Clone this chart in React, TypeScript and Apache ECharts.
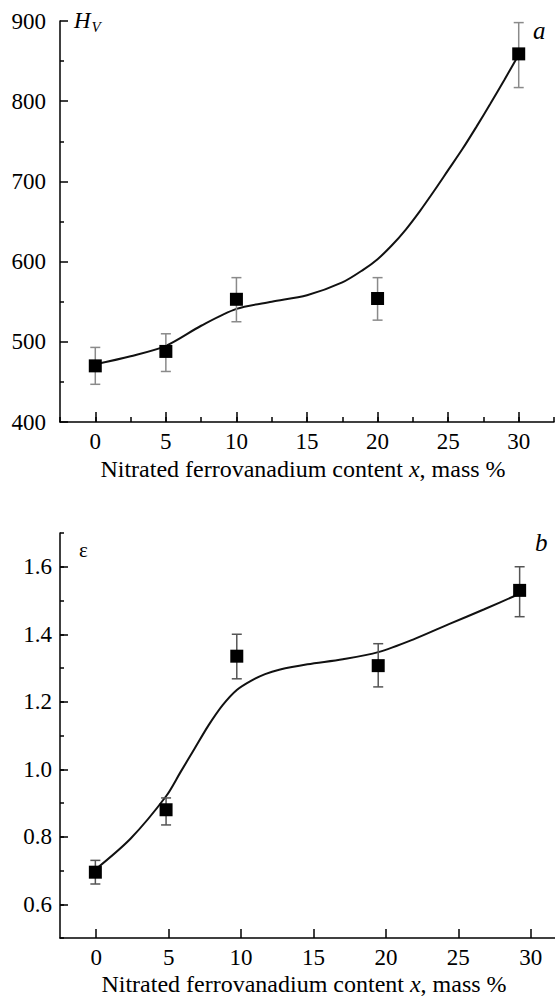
import React, { useEffect, useRef } from "react";
import * as echarts from "echarts";

// Measured points (x = nitrated ferrovanadium content, mass %)
const xPoints = [0, 5, 10, 20, 30];
const hvMean = [470, 488, 553, 554, 859];
const hvLow = [447, 463, 525, 527, 817];
const hvHigh = [493, 510, 580, 580, 898];

const epsMean = [0.695, 0.88, 1.335, 1.307, 1.53];
const epsLow = [0.66, 0.835, 1.268, 1.244, 1.452];
const epsHigh = [0.73, 0.915, 1.4, 1.372, 1.6];

// Fitted curves
const hvFitX = [0, 2.5, 5, 7.5, 10, 12.5, 15, 17.5, 19, 20, 21, 22, 23, 24, 25, 26, 27, 28, 29, 30];
const hvFit = [472, 482, 495, 520, 541, 550, 558, 574, 590, 603, 620, 640, 663, 688, 714, 740, 768, 797, 827, 858];
const epsFitX = [0, 2.5, 5, 6, 7, 8, 9, 10, 11, 12, 13, 15, 17.5, 20, 22.5, 25, 27.5, 30];
const epsFit = [0.703, 0.795, 0.92, 0.99, 1.06, 1.13, 1.19, 1.235, 1.262, 1.282, 1.295, 1.311, 1.326, 1.347, 1.385, 1.43, 1.474, 1.52];

// Tick labels
const xTickLabels = ["0", "5", "10", "15", "20", "25", "30"];
const hvTickLabels = ["400", "500", "600", "700", "800", "900"];
const epsTickLabels = ["0.6", "0.8", "1.0", "1.2", "1.4", "1.6"];

const FONT = "Liberation Serif";

export default function App() {
  const ref = useRef<HTMLDivElement>(null);

  useEffect(() => {
    if (!ref.current) return;
    const chart = echarts.init(ref.current, null, { renderer: "svg" });

    // layout
    const L = 60;
    const topT = 21, topH = 401, topW = 494;
    const botT = 533, botH = 405, botW = 507;
    const xMin = -2.5, xMax = 32.5;
    const topPx = topW / (xMax - xMin);
    const botPx = botW / (xMax - xMin);
    const botYPx = botH / 1.2;

    const black = "#000";
    const labelStyle = { color: black, fontFamily: FONT, fontSize: 23 };
    const lineOn = { show: true, onZero: false, lineStyle: { color: black, width: 1.5 } };

    const errItem = (color: string) => (params: any, api: any) => {
      const x = api.value(0);
      const lo = api.coord([x, api.value(2)]);
      const hi = api.coord([x, api.value(3)]);
      const cap = 5;
      const st = { stroke: color, lineWidth: 1.5 };
      return {
        type: "group",
        children: [
          { type: "line", shape: { x1: lo[0], y1: lo[1], x2: hi[0], y2: hi[1] }, style: st },
          { type: "line", shape: { x1: lo[0] - cap, y1: lo[1], x2: lo[0] + cap, y2: lo[1] }, style: st },
          { type: "line", shape: { x1: hi[0] - cap, y1: hi[1], x2: hi[0] + cap, y2: hi[1] }, style: st },
        ],
      };
    };

    const hvErr = xPoints.map((x, i) => [x, hvMean[i], hvLow[i], hvHigh[i]]);
    const epsErr = xPoints.map((x, i) => [x, epsMean[i], epsLow[i], epsHigh[i]]);

    const nameRich = {
      a: { fontFamily: FONT, fontSize: 24, fontStyle: "normal", fill: black },
      i: { fontFamily: FONT, fontSize: 24, fontStyle: "italic", fill: black },
    };

    const option: any = {
      animation: false,
      grid: [
        { left: L, top: topT, width: topW, height: topH },
        { left: L + 2.5 * topPx, top: topT, width: 30 * topPx, height: topH },
        { left: L, top: botT, width: botW, height: botH },
        { left: L + 2.5 * botPx, top: botT, width: 30 * botPx, height: botH },
        { left: L, top: botT + botYPx * 0.1, width: botW, height: botYPx },
      ],
      xAxis: [
        {
          gridIndex: 0, type: "value", min: xMin, max: xMax, interval: 2.5,
          axisLine: lineOn,
          axisTick: { show: true, inside: true, length: 5, lineStyle: { color: black, width: 1.5 } },
          axisLabel: { show: false }, splitLine: { show: false },
        },
        {
          gridIndex: 1, type: "value", min: 0, max: 30, interval: 5,
          axisLine: { show: false, onZero: false },
          axisTick: { show: true, inside: true, length: 10, lineStyle: { color: black, width: 1.5 } },
          axisLabel: { ...labelStyle, margin: 8, formatter: (v: number) => xTickLabels[Math.round(v / 5)] ?? "" },
          splitLine: { show: false },
        },
        {
          gridIndex: 2, type: "value", min: xMin, max: xMax, interval: 2.5,
          axisLine: lineOn,
          axisTick: { show: false }, axisLabel: { show: false }, splitLine: { show: false },
        },
        {
          gridIndex: 3, type: "value", min: 0, max: 30, interval: 5,
          axisLine: { show: false, onZero: false },
          axisTick: { show: true, inside: true, length: 9, lineStyle: { color: black, width: 1.5 } },
          axisLabel: { ...labelStyle, margin: 8, formatter: (v: number) => xTickLabels[Math.round(v / 5)] ?? "" },
          splitLine: { show: false },
        },
        { gridIndex: 4, type: "value", min: xMin, max: xMax, show: false },
      ],
      yAxis: [
        {
          gridIndex: 0, type: "value", min: 400, max: 900, interval: 100,
          axisLine: lineOn,
          axisTick: { show: true, inside: true, length: 8, lineStyle: { color: black, width: 1.5 } },
          minorTick: { show: true, splitNumber: 2, length: 4, lineStyle: { color: black, width: 1.5 } },
          axisLabel: { ...labelStyle, margin: 14, formatter: (v: number) => hvTickLabels[Math.round((v - 400) / 100)] ?? "" },
          splitLine: { show: false },
        },
        { gridIndex: 1, type: "value", min: 400, max: 900, show: false },
        {
          gridIndex: 2, type: "value", min: 0.5, max: 1.7, interval: 0.1,
          axisLine: lineOn,
          axisTick: { show: true, inside: true, length: 4, lineStyle: { color: black, width: 1.5 } },
          axisLabel: { show: false }, splitLine: { show: false },
        },
        { gridIndex: 3, type: "value", min: 0.5, max: 1.7, show: false },
        {
          gridIndex: 4, type: "value", min: 0.6, max: 1.6, interval: 0.2,
          axisLine: { show: false, onZero: false },
          axisTick: { show: true, inside: true, length: 8, lineStyle: { color: black, width: 1.5 } },
          axisLabel: { ...labelStyle, margin: 8, formatter: (v: number) => epsTickLabels[Math.round((v - 0.6) / 0.2)] ?? "" },
          splitLine: { show: false },
        },
      ],
      series: [
        {
          type: "line", xAxisIndex: 0, yAxisIndex: 0, smooth: 0.3, showSymbol: false, symbol: "none",
          data: hvFitX.map((x, i) => [x, hvFit[i]]),
          lineStyle: { color: "#111", width: 2 }, z: 2,
        },
        {
          type: "custom", xAxisIndex: 0, yAxisIndex: 0, renderItem: errItem("#8a8a8a"),
          data: hvErr, encode: { x: 0, y: [1, 2, 3] }, z: 3,
        },
        {
          type: "scatter", xAxisIndex: 0, yAxisIndex: 0, symbol: "rect", symbolSize: 13,
          itemStyle: { color: "#000", opacity: 1 }, data: xPoints.map((x, i) => [x, hvMean[i]]), z: 4,
        },
        {
          type: "line", xAxisIndex: 2, yAxisIndex: 2, smooth: 0.3, showSymbol: false, symbol: "none",
          data: epsFitX.map((x, i) => [x, epsFit[i]]),
          lineStyle: { color: "#111", width: 2 }, z: 2,
        },
        {
          type: "custom", xAxisIndex: 2, yAxisIndex: 2, renderItem: errItem("#555"),
          data: epsErr, encode: { x: 0, y: [1, 2, 3] }, z: 3,
        },
        {
          type: "scatter", xAxisIndex: 2, yAxisIndex: 2, symbol: "rect", symbolSize: 13,
          itemStyle: { color: "#000", opacity: 1 }, data: xPoints.map((x, i) => [x, epsMean[i]]), z: 4,
        },
      ],
      graphic: [
        {
          type: "text", left: 74, top: 9,
          style: {
            text: "{h|H}{s|V}",
            rich: {
              h: { fontFamily: FONT, fontStyle: "italic", fontSize: 23, fill: black },
              s: { fontFamily: FONT, fontStyle: "italic", fontSize: 15, fill: black, padding: [12, 0, 0, 1] },
            },
          },
        },
        {
          type: "text", left: 533, top: 18,
          style: { text: "a", fontFamily: FONT, fontStyle: "italic", fontSize: 25, fill: black },
        },
        {
          type: "text", left: 79, top: 539,
          style: { text: "ε", fontFamily: FONT, fontSize: 21, fill: black },
        },
        {
          type: "text", left: 535, top: 530,
          style: { text: "b", fontFamily: FONT, fontStyle: "italic", fontSize: 25, fill: black },
        },
        {
          type: "text", x: 303, y: 469,
          style: {
            text: "{a|Nitrated ferrovanadium content }{i|x}{a|, mass %}",
            align: "center", verticalAlign: "middle", rich: nameRich,
          },
        },
        {
          type: "text", x: 304, y: 984,
          style: {
            text: "{a|Nitrated ferrovanadium content }{i|x}{a|, mass %}",
            align: "center", verticalAlign: "middle", rich: nameRich,
          },
        },
      ],
    };

    chart.setOption(option);
    return () => chart.dispose();
  }, []);

  return (
    <div
      ref={ref}
      style={{ position: "absolute", left: 0, top: 0, width: 555, height: 999, background: "#fff" }}
    />
  );
}
